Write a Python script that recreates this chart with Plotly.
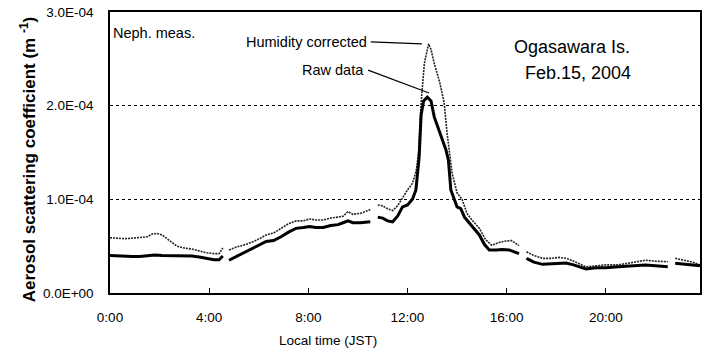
import plotly.graph_objects as go

# Local time (hours) and scattering coefficient (units of 1e-4 m^-1); None = data gap
corr_hours = [0.0, 0.3, 0.6, 0.9, 1.2, 1.5, 1.7, 1.9, 2.1, 2.4, 2.7, 3.0, 3.3, 3.6, 3.9, 4.2, 4.4, 4.55,
              4.68,
              4.8, 5.1, 5.5, 5.8, 6.1, 6.3, 6.6, 6.9, 7.2, 7.5, 7.8, 8.05, 8.3, 8.6, 8.9, 9.2, 9.4, 9.6, 9.8, 10.1, 10.5,
              10.65,
              10.8, 11.0, 11.2, 11.4, 11.6, 11.8, 12.0, 12.2, 12.35, 12.45, 12.55, 12.68, 12.85, 12.95, 13.08, 13.3,
              13.48, 13.6, 13.68, 13.8, 14.0, 14.2, 14.4, 14.6, 14.9, 15.15, 15.4, 15.7, 15.96, 16.2, 16.5,
              16.65,
              16.8, 17.1, 17.45, 17.8, 18.1, 18.4, 18.7, 19.0, 19.2, 19.6, 20.0, 20.5, 21.0, 21.3, 21.6, 22.0, 22.5,
              22.65,
              22.8, 23.2, 23.5, 23.8]
corr_values = [0.59, 0.585, 0.58, 0.585, 0.59, 0.60, 0.63, 0.635, 0.62, 0.56, 0.50, 0.48, 0.47, 0.45, 0.43, 0.42, 0.42, 0.48,
               None,
               0.46, 0.49, 0.52, 0.55, 0.59, 0.62, 0.64, 0.69, 0.74, 0.77, 0.77, 0.79, 0.78, 0.78, 0.80, 0.81, 0.82, 0.87, 0.84, 0.85, 0.89,
               None,
               0.94, 0.93, 0.90, 0.88, 0.93, 1.02, 1.10, 1.17, 1.30, 1.50, 2.03, 2.45, 2.66, 2.60, 2.45, 2.25,
               2.03, 1.70, 1.53, 1.28, 1.07, 1.00, 0.85, 0.78, 0.69, 0.57, 0.51, 0.54, 0.555, 0.56, 0.505,
               None,
               0.44, 0.40, 0.37, 0.37, 0.38, 0.37, 0.34, 0.30, 0.28, 0.29, 0.30, 0.30, 0.32, 0.33, 0.35, 0.34, 0.334,
               None,
               0.37, 0.35, 0.33, 0.30]

raw_hours = [0.0, 0.3, 0.6, 0.9, 1.2, 1.5, 1.8, 2.1, 2.4, 2.7, 3.0, 3.3, 3.6, 3.9, 4.2, 4.4, 4.55,
             4.68,
             4.8, 5.1, 5.5, 5.8, 6.1, 6.3, 6.6, 6.9, 7.2, 7.5, 7.8, 8.05, 8.3, 8.6, 8.9, 9.2, 9.4, 9.6, 9.8, 10.1, 10.5,
             10.65,
             10.8, 11.0, 11.2, 11.4, 11.6, 11.8, 12.0, 12.2, 12.34, 12.47, 12.55, 12.65, 12.8, 12.95, 13.08, 13.28,
             13.45, 13.55, 13.65, 13.75, 14.0, 14.15, 14.3, 14.6, 14.9, 15.1, 15.3, 15.6, 15.8, 16.1, 16.5,
             16.65,
             16.8, 17.1, 17.45, 17.8, 18.1, 18.4, 18.7, 19.0, 19.2, 19.6, 20.0, 20.5, 21.0, 21.6, 22.0, 22.5,
             22.65,
             22.8, 23.2, 23.5, 23.8]
raw_values = [0.40, 0.395, 0.39, 0.39, 0.39, 0.395, 0.405, 0.40, 0.40, 0.40, 0.40, 0.395, 0.385, 0.37, 0.355, 0.355, 0.395,
              None,
              0.35, 0.39, 0.44, 0.48, 0.52, 0.55, 0.56, 0.60, 0.65, 0.69, 0.70, 0.71, 0.70, 0.70, 0.72, 0.73, 0.75, 0.77, 0.75, 0.75, 0.76,
              None,
              0.81, 0.80, 0.77, 0.76, 0.82, 0.92, 0.94, 1.00, 1.10, 1.45, 1.90, 2.05, 2.09, 2.05, 1.88, 1.74,
              1.62, 1.53, 1.42, 1.10, 0.92, 0.90, 0.81, 0.72, 0.62, 0.52, 0.46, 0.46, 0.465, 0.46, 0.42,
              None,
              0.37, 0.33, 0.306, 0.31, 0.32, 0.32, 0.30, 0.27, 0.256, 0.27, 0.27, 0.28, 0.29, 0.30, 0.29, 0.28,
              None,
              0.317, 0.31, 0.30, 0.29]

x_tick_vals = [0, 4, 8, 12, 16, 20]
x_tick_text = ["0:00", "4:00", "8:00", "12:00", "16:00", "20:00"]
y_tick_vals = [0, 1, 2, 3]
y_tick_text = ["0.0E+00", "1.0E-04", "2.0E-04", "3.0E-04"]

FONT = "Arial"

fig = go.Figure()
fig.add_trace(go.Scatter(x=corr_hours, y=corr_values, mode="lines", connectgaps=False,
                         line=dict(color="#222222", width=1.6, dash="2px,1px"), name="Humidity corrected"))
fig.add_trace(go.Scatter(x=raw_hours, y=raw_values, mode="lines", connectgaps=False,
                         line=dict(color="black", width=3), name="Raw data"))

fig.update_layout(
    width=705, height=354,
    margin=dict(l=110, r=3, t=12, b=61),
    paper_bgcolor="white", plot_bgcolor="white",
    showlegend=False,
    font=dict(family=FONT, color="black", size=14),
)
fig.update_xaxes(range=[0, 23.8], tickvals=x_tick_vals, ticktext=x_tick_text,
                 showgrid=False, zeroline=False, showline=True, linecolor="black", linewidth=1.5,
                 mirror=True, ticks="inside", ticklen=5, tickcolor="black",
                 ticklabelstandoff=11, tickfont=dict(family=FONT, size=13.5))
fig.update_yaxes(range=[0, 3], tickvals=y_tick_vals, ticktext=y_tick_text,
                 showgrid=True, gridcolor="black", gridwidth=1, griddash="3px,3px",
                 zeroline=False, showline=True, linecolor="black", linewidth=1.5,
                 mirror=True, ticks="", ticklabelstandoff=12, tickfont=dict(family=FONT, size=13.5))

def px(xp):
    return (xp - 110) / 592.0

def py(yp):
    return (293 - yp) / 281.0

anns = [
    dict(text="Neph. meas.", x=px(111), y=py(33), xanchor="left", yanchor="middle", font=dict(size=14.5)),
    dict(text="Humidity corrected", x=px(370), y=py(42), xanchor="right", yanchor="middle", font=dict(size=14.5)),
    dict(text="Raw data", x=px(367), y=py(70), xanchor="right", yanchor="middle", font=dict(size=14.5)),
    dict(text="Ogasawara Is.", x=px(574), y=py(47), xanchor="center", yanchor="middle", font=dict(size=18)),
    dict(text="Feb.15, 2004", x=px(580), y=py(73), xanchor="center", yanchor="middle", font=dict(size=18)),
    dict(text="Local time (JST)", x=px(329), y=py(341), xanchor="center", yanchor="middle", font=dict(size=13.5)),
    dict(text="<b>Aerosol scattering coefficient (m <sup>-1</sup>)</b>", x=px(28), y=py(160), textangle=-90,
         xanchor="center", yanchor="middle", font=dict(size=17)),
]
for a in anns:
    a.update(xref="paper", yref="paper", showarrow=False)
    fig.add_annotation(**a)

# leader lines from labels to curves
fig.add_shape(type="line", xref="x", yref="y", x0=10.52, y0=2.68, x1=12.58, y1=2.66,
              line=dict(color="black", width=1.2))
fig.add_shape(type="line", xref="x", yref="y", x0=10.41, y0=2.38, x1=12.87, y1=2.135,
              line=dict(color="black", width=1.2))

fig.write_html("out.html")
